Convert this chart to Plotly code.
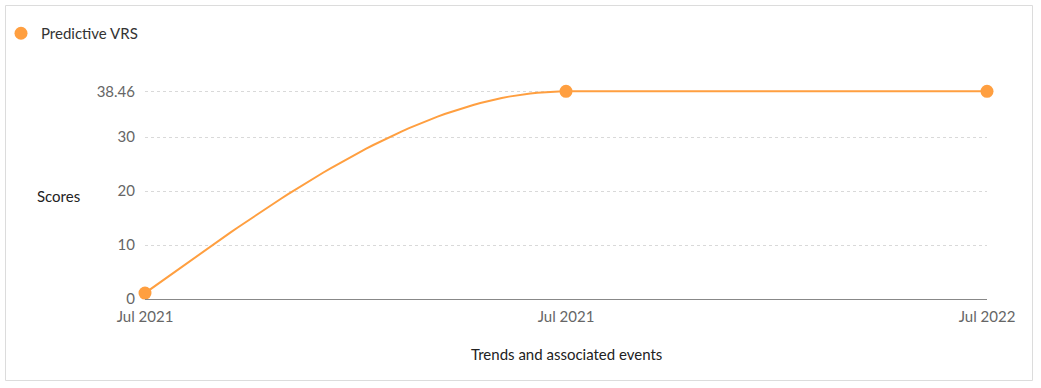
import numpy as np
import plotly.graph_objects as go

# ---- data ----
date_labels = ["Jul 2021", "Jul 2021", "Jul 2022"]
vrs_scores = [1.1, 38.46, 38.46]
y_ticks = [0, 10, 20, 30, 38.46]
y_tick_text = ["0", "10", "20", "30", "38.46"]
series_name = "Predictive VRS"
y_max = 40

ORANGE = "#FF9F40"
FONT = "Lato, 'Open Sans', sans-serif"

x_idx = list(range(len(vrs_scores)))


def monotone_x(xs, ys, n=60):
    """d3 curveMonotoneX rendering of the line through the data points."""
    xs = np.asarray(xs, float)
    ys = np.asarray(ys, float)
    m = len(xs)
    h = np.diff(xs)
    s = np.diff(ys) / h
    t = np.zeros(m)
    for i in range(1, m - 1):
        p = (s[i - 1] * h[i] + s[i] * h[i - 1]) / (h[i - 1] + h[i])
        t[i] = (np.sign(s[i - 1]) + np.sign(s[i])) * min(abs(s[i - 1]), abs(s[i]), 0.5 * abs(p))
    t[0] = (3 * s[0] - t[1]) / 2 if m > 2 else s[0]
    t[-1] = (3 * s[-1] - t[-2]) / 2 if m > 2 else s[-1]
    out_x, out_y = [], []
    u = np.linspace(0, 1, n)
    for i in range(m - 1):
        x0, x1, y0, y1 = xs[i], xs[i + 1], ys[i], ys[i + 1]
        dx = (x1 - x0) / 3
        px = [x0, x0 + dx, x1 - dx, x1]
        py = [y0, y0 + dx * t[i], y1 - dx * t[i + 1], y1]
        b = [(1 - u) ** 3, 3 * u * (1 - u) ** 2, 3 * u ** 2 * (1 - u), u ** 3]
        bx = sum(b[k] * px[k] for k in range(4))
        by = sum(b[k] * py[k] for k in range(4))
        if i > 0:
            bx, by = bx[1:], by[1:]
        out_x.extend(bx)
        out_y.extend(by)
    return out_x, out_y


cx, cy = monotone_x(x_idx, vrs_scores)

fig = go.Figure()
fig.add_trace(go.Scatter(
    x=cx, y=cy, mode="lines",
    line=dict(color=ORANGE, width=2),
    showlegend=False, hoverinfo="skip", cliponaxis=False,
))
fig.add_trace(go.Scatter(
    x=x_idx, y=vrs_scores, mode="markers", name=series_name,
    marker=dict(color=ORANGE, size=13),
    cliponaxis=False,
))

W, H = 1041, 388
L, R, T, B = 145, 54, 83, 89
pw, ph = W - L - R, H - T - B


def px_x(p):
    return (p - L) / pw


def px_y(p):
    return (H - B - p) / ph


fig.update_layout(
    width=W, height=H,
    margin=dict(l=L, r=R, t=T, b=B, autoexpand=False),
    paper_bgcolor="white", plot_bgcolor="white",
    font=dict(family=FONT, size=15, color="#666"),
    showlegend=True,
    legend=dict(
        x=px_x(1), y=px_y(17), xanchor="left", yanchor="top",
        font=dict(family=FONT, size=15, color="#333"),
        bgcolor="rgba(0,0,0,0)", borderwidth=0,
    ),
    xaxis=dict(
        range=[0, len(vrs_scores) - 1],
        tickmode="array", tickvals=x_idx, ticktext=date_labels,
        showgrid=False, zeroline=False,
        showline=True, linecolor="#888", linewidth=1,
        ticks="", ticklabelstandoff=4,
        tickfont=dict(family=FONT, size=15, color="#666"),
        fixedrange=True,
    ),
    yaxis=dict(
        range=[0, y_max],
        tickmode="array", tickvals=y_ticks, ticktext=y_tick_text,
        showgrid=True, gridcolor="#d9d9d9", griddash="dot", gridwidth=1,
        zeroline=False, showline=False, ticks="",
        ticklabelstandoff=9,
        tickfont=dict(family=FONT, size=15, color="#666"),
        fixedrange=True,
    ),
    shapes=[dict(
        type="rect", xref="paper", yref="paper",
        x0=px_x(5.5), x1=px_x(1032.5), y0=px_y(380.5), y1=px_y(5.5),
        line=dict(color="#dcdcdc", width=1), fillcolor="rgba(0,0,0,0)",
        layer="below",
    )],
    annotations=[
        dict(text="Scores", xref="paper", yref="paper",
             x=px_x(58), y=px_y(196), xanchor="center", yanchor="middle",
             showarrow=False, font=dict(family=FONT, size=15, color="#222")),
        dict(text="Trends and associated events", xref="paper", yref="paper",
             x=0.5, y=px_y(354), xanchor="center", yanchor="middle",
             showarrow=False, font=dict(family=FONT, size=15, color="#222")),
    ],
)

fig.write_html("out.html", config={"displayModeBar": False},
               post_script="document.body.style.margin='0';")
